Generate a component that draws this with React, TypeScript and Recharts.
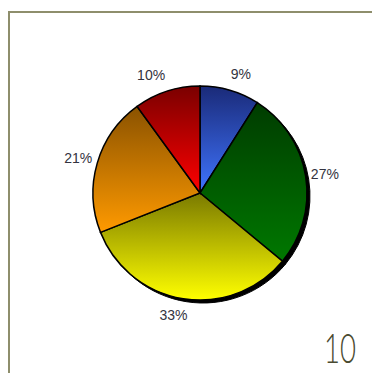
import { PieChart, Pie, Cell } from 'recharts';

const categories = ['A', 'B', 'C', 'D', 'E'];
const shares = [9, 27, 33, 21, 10];
const topColors = ['#1a2a78', '#003c00', '#7a7a00', '#8a5200', '#7a0000'];
const bottomColors = ['#3f74ff', '#007800', '#ffff00', '#ff9a00', '#ff0000'];
const pageNumber = '10';

const data = categories.map((name, i) => ({ name, value: shares[i] }));

const RAD = Math.PI / 180;

const renderLabel = (props: any) => {
  const { cx, cy, midAngle, outerRadius, value } = props;
  const r = outerRadius + 5;
  const cos = Math.cos(-midAngle * RAD);
  const sin = Math.sin(-midAngle * RAD);
  const px = cx + r * cos;
  const py = cy + r * sin;
  const text = `${value}%`;
  const w = text.length * 9.5;
  const k = Math.max(-1, Math.min(1, cos * 4));
  return (
    <text
      x={px + (k * w) / 2}
      y={py + sin * 12 + 5}
      textAnchor="middle"
      fill="#333340"
      fontSize={14}
      fontFamily="'Liberation Sans', Arial, sans-serif"
    >
      {text}
    </text>
  );
};

export default function App() {
  return (
    <div style={{ position: 'fixed', left: 0, top: 0, width: 372, height: 373, background: '#fff' }}>
      <div style={{ position: 'absolute', left: 8, top: 11, width: 364, height: 2, background: '#8e8e6c' }} />
      <div style={{ position: 'absolute', left: 8, top: 11, width: 2, height: 362, background: '#8e8e6c' }} />
      <PieChart
        width={372}
        height={373}
        margin={{ top: 0, right: 0, bottom: 0, left: 0 }}
        style={{ position: 'absolute', left: 0, top: 0 }}
      >
        <defs>
          {categories.map((c, i) => (
            <linearGradient key={c} id={`grad${i}`} x1="0" y1="0" x2="0" y2="1">
              <stop offset="0%" stopColor={topColors[i]} />
              <stop offset="100%" stopColor={bottomColors[i]} />
            </linearGradient>
          ))}
        </defs>
        <Pie
          data={data}
          dataKey="value"
          cx={203}
          cy={196}
          outerRadius={107}
          startAngle={90}
          endAngle={-270}
          fill="#000"
          stroke="#000"
          isAnimationActive={false}
          legendType="none"
        />
        <Pie
          data={data}
          dataKey="value"
          cx={200}
          cy={193}
          outerRadius={107}
          startAngle={90}
          endAngle={-270}
          stroke="#000"
          strokeWidth={1.5}
          label={renderLabel}
          labelLine={false}
          isAnimationActive={false}
        >
          {data.map((d, i) => (
            <Cell key={d.name} fill={`url(#grad${i})`} />
          ))}
        </Pie>
      </PieChart>
      <svg width={372} height={373} style={{ position: 'absolute', left: 0, top: 0, pointerEvents: 'none' }}>
        <text
          x={324}
          y={363}
          fontSize={41}
          fontWeight={300}
          fontFamily="Lato, 'Open Sans', sans-serif"
          fill="#4a4a30"
          textLength={32}
          lengthAdjust="spacingAndGlyphs"
        >
          {pageNumber}
        </text>
      </svg>
    </div>
  );
}
